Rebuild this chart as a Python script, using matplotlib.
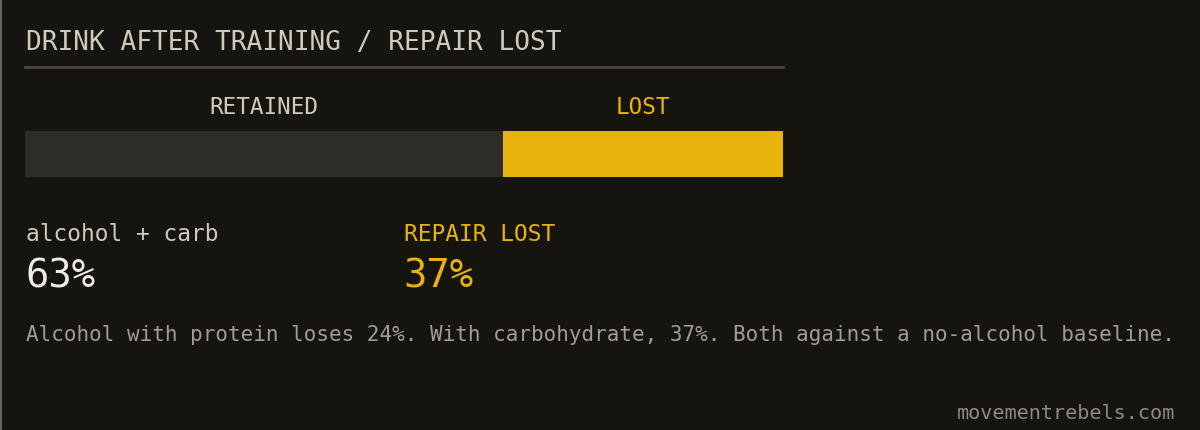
import matplotlib
matplotlib.use("Agg")
import matplotlib.pyplot as plt
from matplotlib.lines import Line2D

# ---- data ----
title = "DRINK AFTER TRAINING / REPAIR LOST"
segments = ["RETAINED", "LOST"]
values = [63, 37]
left_label = "alcohol + carb"
right_label = "REPAIR LOST"
footnote = ("Alcohol with protein loses 24%. With carbohydrate, 37%. "
            "Both against a no-alcohol baseline.")
credit = "movementrebels.com"

# ---- style ----
BG = "#16140f"
TXT = "#d0cabe"
DIM = "#a39d91"
YEL = "#e8b30a"
GREY_BAR = "#2e2c27"
RULE = "#4a463d"
MONO = "DejaVu Sans Mono"

W, H = 1200, 430
fig = plt.figure(figsize=(W / 100, H / 100), dpi=100, facecolor=BG)

# overlay axes in pixel coordinates (y down)
ov = fig.add_axes([0, 0, 1, 1])
ov.set_xlim(0, W)
ov.set_ylim(H, 0)
ov.axis("off")
ov.patch.set_alpha(0)

# left border line
ov.add_line(Line2D([0.5, 0.5], [0, H], color="#77736b", lw=1.2))

# title and rule
ov.text(26, 50, title, fontsize=18.8, family=MONO, color=TXT,
        ha="left", va="baseline")
ov.add_line(Line2D([25, 783], [67.3, 67.3], color=RULE, lw=2))

# stacked bar axes
bx0, bx1, by0, by1 = 25, 783, 131, 177
bar_ax = fig.add_axes([bx0 / W, 1 - by1 / H, (bx1 - bx0) / W, (by1 - by0) / H])
bar_ax.set_xlim(0, sum(values))
bar_ax.set_ylim(-0.5, 0.5)
bar_ax.axis("off")
colors = [GREY_BAR, YEL]
label_colors = [TXT, YEL]
left = 0
total = sum(values)
for name, v, c, lc in zip(segments, values, colors, label_colors):
    bar_ax.barh(0, v, left=left, height=1.0, color=c, edgecolor="none")
    cx = bx0 + (left + v / 2) / total * (bx1 - bx0)
    ov.text(cx, 114, name, fontsize=16.3, family=MONO, color=lc,
            ha="center", va="baseline")
    left += v

# stats
ov.text(26, 241, left_label, fontsize=16.5, family=MONO, color=TXT,
        ha="left", va="baseline")
ov.text(25, 287, f"{values[0]}%", fontsize=28, family=MONO, color="#f0ece4",
        ha="left", va="baseline")
ov.text(404, 241, right_label, fontsize=16.5, family=MONO, color=YEL,
        ha="left", va="baseline")
ov.text(403, 287, f"{values[1]}%", fontsize=28, family=MONO, color=YEL,
        ha="left", va="baseline")

# footnote + credit
ov.text(26, 341, footnote, fontsize=15.05, family=MONO, color=DIM,
        ha="left", va="baseline")
ov.text(1175, 419, credit, fontsize=14.5, family=MONO, color="#8f8a80",
        ha="right", va="baseline")

fig.savefig("out.png", dpi=100, facecolor=BG)
